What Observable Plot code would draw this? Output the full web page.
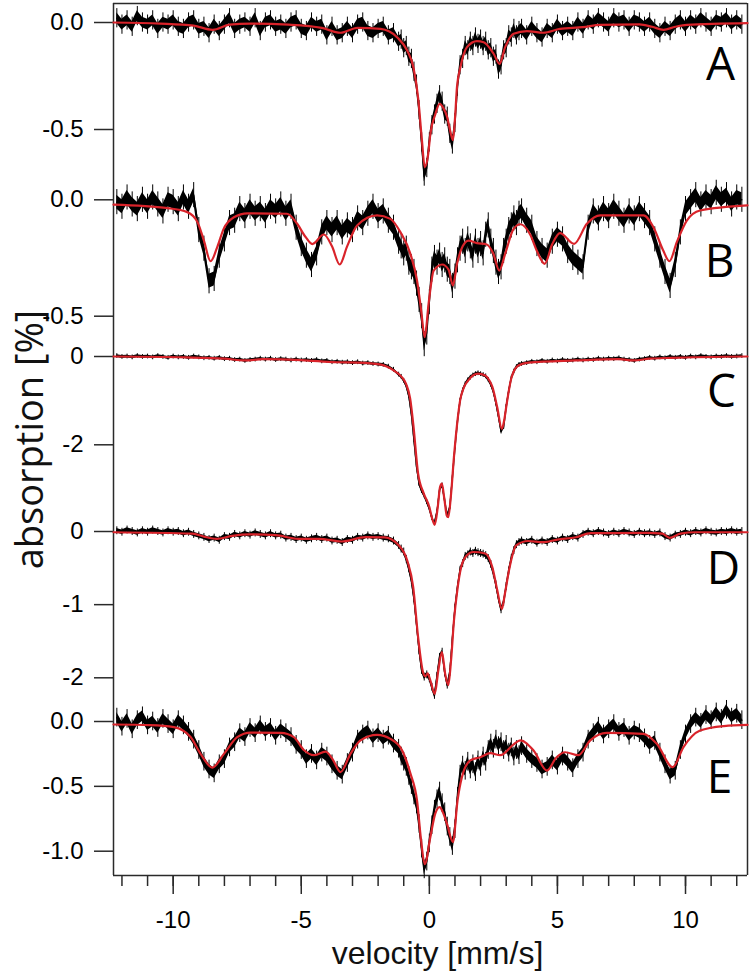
<!DOCTYPE html>
<html>
<head>
<meta charset="utf-8">
<script src="https://cdn.jsdelivr.net/npm/d3@7"></script>
<script src="https://cdn.jsdelivr.net/npm/@observablehq/plot@0.6"></script>
<style>
  html, body { margin: 0; padding: 0; background: #fff; overflow: hidden; }
  #chart { position: relative; width: 751px; height: 973px; overflow: hidden; }
  #chart svg { position: absolute; left: 0; top: 0; background: transparent !important; overflow: visible; }
  #chart svg g[aria-label$="tick label"],
  #chart svg g[aria-label$="tick label"] text {
    font-size: 24px !important;
    font-family: 'Liberation Sans', Arial, Helvetica, sans-serif !important;
  }
</style>
</head>
<body>
<div id="chart"></div>
<script>
// ---------- DATA ----------
// velocity grid (mm/s)
const velLeft = [-12.2,-12,-11.8,-11.6,-11.4,-11.2,-11,-10.8,-10.6,-10.4,-10.2,-10,-9.8,-9.6,-9.4,-9.2,-9,-8.8,-8.6,-8.4,-8.2,-8,-7.8,-7.6,-7.4,-7.2,-7,-6.8,-6.6,-6.4,-6.2,-6,-5.8,-5.6,-5.4,-5.2,-5,-4.8,-4.6,-4.4,-4.2,-4,-3.8,-3.6,-3.4,-3.2,-3,-2.8,-2.6,-2.4,-2.2,-2,-1.8,-1.6,-1.4,-1.2];
const velMid = [-1.1,-1,-0.9,-0.8,-0.7,-0.6,-0.5,-0.4,-0.3,-0.2,-0.1,0,0.1,0.2,0.3,0.4,0.5,0.6,0.7,0.8,0.9,1,1.1,1.2,1.3,1.4,1.5,1.6,1.7,1.8,1.9,2,2.1,2.2,2.3,2.4,2.5,2.6,2.7,2.8,2.9,3,3.1,3.2,3.3,3.4,3.5];
const velRight = [3.6,3.8,4,4.2,4.4,4.6,4.8,5,5.2,5.4,5.6,5.8,6,6.2,6.4,6.6,6.8,7,7.2,7.4,7.6,7.8,8,8.2,8.4,8.6,8.8,9,9.2,9.4,9.6,9.8,10,10.2,10.4,10.6,10.8,11,11.2,11.4,11.6,11.8,12,12.2];

// measured absorption, in units of 0.01 % (left / middle / right parts of the grid)
const obsA = [
  2,-1,1,-2,3,0,-1,1,-3,0,-1,1,-2,-3,0,1,-3,-2,-5,-1,-4,-1,2,-3,-1,0,-2,2,-4,0,1,-2,-1,-3,0,1,-3,-4,0,-2,-1,-6,-2,-6,-5,-2,-5,-1,0,-4,-5,-3,-2,-6,-5,-9,
  -8,-12,-11,-16,-17,-23,-29,-41,-56,-72,-68,-56,-48,-43,-38,-34,-37,-43,-44,-52,-57,-47,-30,-20,-17,-11,-13,-9,-11,-7,-10,-8,-11,-9,-13,-12,-16,-15,-22,-20,-13,-12,-6,-7,-3,-6,-4,
  -3,-6,-2,-5,-7,-3,-5,-1,-4,-2,-4,0,-3,1,-1,2,0,-2,2,0,1,-2,1,0,-2,0,-3,-5,-2,-4,-1,1,-2,1,-1,2,0,-2,1,0,2,-1,1,-1];
const obsB = [
  -1,-3,1,-2,-4,0,-3,1,-2,-5,0,-1,-4,1,-3,2,-13,-21,-35,-34,-24,-17,-10,-9,-4,-7,-3,-6,-4,-7,-3,-5,-2,-6,-3,-12,-19,-24,-28,-23,-14,-10,-13,-10,-14,-11,-13,-8,-10,-6,-3,-7,-5,-9,-12,-18,
  -20,-23,-21,-27,-29,-31,-36,-43,-50,-62,-57,-44,-30,-25,-27,-24,-28,-26,-30,-31,-37,-33,-26,-21,-18,-22,-17,-20,-24,-18,-22,-19,-23,-15,-11,-18,-22,-27,-31,-29,-22,-18,-13,-11,-8,-10,-6,
  -5,-9,-12,-19,-22,-24,-18,-15,-17,-22,-25,-27,-29,-12,-5,-8,-4,-7,-3,-6,-9,-5,-8,-4,-7,-10,-17,-24,-31,-37,-28,-14,-4,-1,2,-2,1,-1,3,0,2,-2,1,0];
const obsC = [
  1,-1,0,-2,1,-1,0,-2,1,-1,-3,0,-2,-1,-3,0,-2,-4,-3,-5,-3,-6,-5,-8,-7,-10,-8,-7,-5,-7,-5,-8,-6,-7,-9,-7,-9,-8,-10,-8,-11,-10,-13,-12,-14,-13,-15,-13,-16,-15,-17,-18,-19,-23,-30,-41,
  -46,-55,-67,-90,-131,-190,-250,-289,-305,-316,-330,-345,-366,-378,-352,-302,-292,-328,-360,-342,-274,-206,-146,-100,-77,-63,-54,-48,-43,-40,-38,-40,-42,-45,-53,-64,-80,-106,-137,-170,-160,-114,-78,-49,-34,-24,-19,
  -17,-15,-12,-13,-10,-12,-9,-11,-8,-10,-9,-7,-9,-7,-8,-5,-7,-5,-6,-4,-7,-8,-10,-7,-6,-3,-5,-2,-4,-1,-3,-1,-3,0,-2,1,-1,-2,0,-1,1,-1,0,1];
const obsD = [
  1,-1,2,0,-2,1,-1,2,0,-2,1,-1,0,-3,-1,-4,-6,-8,-11,-9,-12,-7,-8,-4,-6,-3,-5,-2,-4,-6,-3,-6,-5,-9,-8,-11,-9,-12,-10,-8,-11,-9,-13,-12,-15,-11,-12,-8,-9,-6,-8,-7,-9,-10,-13,-19,
  -24,-28,-38,-51,-67,-92,-127,-163,-190,-199,-196,-201,-213,-224,-198,-172,-165,-193,-210,-193,-147,-105,-76,-53,-44,-34,-32,-28,-30,-27,-29,-30,-31,-33,-37,-45,-57,-73,-92,-107,-97,-75,-54,-37,-26,-18,-15,
  -13,-15,-12,-16,-13,-15,-11,-13,-9,-11,-7,-9,-4,-1,-3,0,-2,-4,-1,-3,0,-2,-4,-1,-3,-2,-4,-2,-7,-9,-5,-4,-1,-3,0,-2,1,-1,-2,0,-1,1,-1,0];
const obsE = [
  3,-4,2,-6,1,4,-3,0,-5,2,-2,-6,1,-3,-8,-14,-22,-31,-37,-40,-33,-29,-20,-16,-9,-12,-5,-9,-3,-8,-5,-11,-6,-9,-12,-18,-22,-29,-25,-30,-24,-27,-33,-38,-41,-32,-24,-14,-10,-7,-13,-9,-14,-11,-17,-21,
  -27,-31,-35,-42,-49,-57,-64,-79,-98,-114,-108,-94,-80,-68,-60,-54,-63,-70,-81,-89,-96,-83,-58,-41,-34,-38,-31,-37,-33,-39,-30,-35,-27,-31,-22,-17,-21,-14,-19,-16,-22,-18,-24,-20,-27,-22,-26,
  -19,-25,-29,-32,-37,-35,-30,-34,-27,-31,-36,-29,-24,-14,-9,-4,-10,-6,-2,-8,-5,-11,-7,-9,-13,-18,-15,-24,-33,-41,-38,-22,-10,-2,3,-1,5,1,7,2,9,3,6,1];

// half-length of the error bars (%)
const errHalf = [0.025, 0.03, 0.03, 0.03, 0.04];

// fitted curves: [velocity, absorption %]
const fitA = [[-12.33,0],[-10.5,-0.005],[-9.2,-0.015],[-8.46,-0.034],[-7.8,-0.01],[-7,-0.005],[-5.5,-0.01],[-4.2,-0.025],[-3.47,-0.048],[-2.8,-0.025],[-1.9,-0.03],[-1.25,-0.07],[-0.87,-0.13],[-0.62,-0.21],[-0.43,-0.36],[-0.29,-0.55],[-0.18,-0.676],[-0.05,-0.62],[0.04,-0.52],[0.23,-0.43],[0.4,-0.38],[0.55,-0.4],[0.69,-0.44],[0.82,-0.51],[0.92,-0.55],[1,-0.45],[1.08,-0.3],[1.21,-0.21],[1.47,-0.115],[1.86,-0.087],[2.12,-0.092],[2.51,-0.146],[2.74,-0.193],[2.96,-0.115],[3.29,-0.053],[3.81,-0.04],[4.45,-0.048],[5.1,-0.03],[6,-0.022],[6.67,-0.011],[8.2,-0.009],[8.7,-0.02],[9.14,-0.034],[9.6,-0.02],[10.05,-0.011],[12.42,-0.003]];
const fitB = [[-12.33,-0.021],[-10.2,-0.036],[-9.45,-0.053],[-9.05,-0.096],[-8.8,-0.175],[-8.54,-0.264],[-8.27,-0.2],[-8.03,-0.125],[-7.63,-0.075],[-7.1,-0.058],[-5.56,-0.06],[-5.16,-0.103],[-4.83,-0.16],[-4.57,-0.19],[-4.12,-0.149],[-3.8,-0.2],[-3.5,-0.278],[-3.21,-0.2],[-2.82,-0.11],[-2.04,-0.067],[-1.52,-0.082],[-1.13,-0.139],[-0.74,-0.232],[-0.48,-0.347],[-0.32,-0.475],[-0.18,-0.59],[-0.03,-0.447],[0.17,-0.304],[0.5,-0.278],[0.75,-0.3],[0.92,-0.368],[1.08,-0.275],[1.3,-0.2],[1.53,-0.175],[1.86,-0.186],[2.24,-0.192],[2.5,-0.232],[2.73,-0.304],[2.96,-0.232],[3.29,-0.125],[3.55,-0.105],[3.94,-0.15],[4.2,-0.22],[4.5,-0.275],[4.8,-0.19],[5.1,-0.143],[5.65,-0.189],[6.15,-0.103],[6.67,-0.067],[8.36,-0.067],[8.75,-0.118],[9.13,-0.218],[9.37,-0.264],[9.66,-0.182],[10.05,-0.089],[10.57,-0.046],[12.42,-0.024]];
const fitC = [[-12.33,0],[-9.5,-0.02],[-8,-0.05],[-7.18,-0.09],[-6.5,-0.06],[-5,-0.08],[-3.63,-0.13],[-2.8,-0.14],[-1.94,-0.18],[-1.38,-0.32],[-1.1,-0.45],[-0.91,-0.62],[-0.75,-0.95],[-0.63,-1.52],[-0.44,-2.65],[-0.22,-3.1],[0,-3.41],[0.1,-3.65],[0.21,-3.81],[0.33,-3.4],[0.42,-2.95],[0.49,-2.88],[0.58,-3.2],[0.68,-3.6],[0.74,-3.64],[0.85,-3.1],[0.96,-2.28],[1.08,-1.55],[1.2,-1],[1.35,-0.7],[1.52,-0.54],[1.9,-0.39],[2.18,-0.43],[2.35,-0.55],[2.46,-0.69],[2.65,-1.15],[2.83,-1.64],[2.92,-1.45],[3.02,-1.07],[3.21,-0.47],[3.49,-0.2],[3.86,-0.14],[5.73,-0.09],[7.4,-0.06],[7.98,-0.09],[8.6,-0.05],[9.47,-0.03],[12.42,0]];
const fitD = [[-12.33,-0.01],[-9.24,-0.03],[-8.8,-0.07],[-8.3,-0.1],[-7.7,-0.06],[-7,-0.04],[-6,-0.05],[-5.12,-0.1],[-4.3,-0.1],[-3.43,-0.137],[-2.5,-0.078],[-1.75,-0.08],[-1.19,-0.19],[-0.86,-0.4],[-0.63,-0.76],[-0.44,-1.44],[-0.25,-1.92],[-0.15,-1.98],[-0.07,-1.94],[0.05,-2.05],[0.21,-2.22],[0.35,-1.9],[0.49,-1.65],[0.62,-1.95],[0.74,-2.1],[0.85,-1.75],[0.96,-1.22],[1.1,-0.78],[1.24,-0.49],[1.45,-0.33],[1.71,-0.28],[2.18,-0.3],[2.46,-0.49],[2.65,-0.8],[2.83,-1.06],[2.95,-0.85],[3.11,-0.53],[3.39,-0.19],[3.86,-0.13],[4.42,-0.146],[5,-0.11],[5.73,-0.078],[6.3,-0.023],[8.5,-0.02],[9.1,-0.03],[9.38,-0.087],[9.8,-0.03],[10.4,-0.01],[12.42,-0.01]];
const fitE = [[-12.33,-0.023],[-10.9,-0.028],[-9.97,-0.044],[-9.32,-0.12],[-8.93,-0.25],[-8.47,-0.355],[-8.02,-0.25],[-7.5,-0.12],[-6.98,-0.085],[-5.8,-0.088],[-5.29,-0.12],[-4.9,-0.22],[-4.51,-0.26],[-4.05,-0.233],[-3.75,-0.3],[-3.47,-0.39],[-3.08,-0.25],[-2.69,-0.146],[-2.04,-0.103],[-1.52,-0.134],[-1.07,-0.22],[-0.74,-0.4],[-0.48,-0.61],[-0.32,-0.92],[-0.18,-1.1],[0.04,-0.89],[0.23,-0.71],[0.4,-0.66],[0.55,-0.71],[0.69,-0.79],[0.92,-0.93],[1.1,-0.61],[1.27,-0.43],[1.6,-0.3],[1.99,-0.275],[2.38,-0.244],[2.77,-0.26],[3.29,-0.177],[3.55,-0.146],[4.07,-0.224],[4.59,-0.378],[4.95,-0.28],[5.3,-0.237],[5.82,-0.26],[6.28,-0.146],[6.93,-0.088],[8.36,-0.095],[8.88,-0.172],[9.5,-0.352],[9.92,-0.198],[10.57,-0.07],[11.5,-0.035],[12.42,-0.026]];

// labels and ticks
const panelLabels = ["A", "B", "C", "D", "E"];
const yTicks = [[0, -0.5], [0, -0.5], [0, -2], [0, -1, -2], [0, -0.5, -1]];
const yTickLabels = [["0.0", "-0.5"], ["0.0", "-0.5"], ["0", "-2"], ["0", "-1", "-2"], ["0.0", "-0.5", "-1.0"]];
const xMajorTicks = [-10, -5, 0, 5, 10];
const xMajorLabels = ["-10", "-5", "0", "5", "10"];
const xMinorTicks = [-12,-11,-10,-9,-8,-7,-6,-5,-4,-3,-2,-1,0,1,2,3,4,5,6,7,8,9,10,11,12];
const xTitle = "velocity [mm/s]";
const yTitle = "absorption [%]";

// ---------- LAYOUT ----------
const W = 751, H = 973;
const xDomain = [-12.33, 12.42];
const ML = 113, MR = 4;
const RED = "#d9232a";
const AX = "#2a2a2a";
const tickFont = "'Liberation Sans', Arial, Helvetica, sans-serif";
const letterFont = "'Open Sans', 'Noto Sans', sans-serif";

const velocity = [...velLeft, ...velMid, ...velRight];
const obsAll = [obsA, obsB, obsC, obsD, obsE];
const fitAll = [fitA, fitB, fitC, fitD, fitE];
const yDomains = [[0, -0.5], [0, -0.5], [0, -2], [0, -2], [0, -1]];
const yRanges = [[22, 129], [199.3, 315.7], [356, 444.3], [531, 677.3], [721, 850.7]];
const letterPos = [[720, 65], [719, 262], [721, 392], [723, 569], [719, 778]];

const chart = document.getElementById("chart");
const svgStyle = `position:absolute;left:0;top:0;background:transparent;overflow:visible;font-family:${tickFont};`;

// frame + x axis + titles
const frame = Plot.plot({
  width: W, height: H,
  marginLeft: ML, marginRight: MR, marginTop: 3, marginBottom: 98,
  style: svgStyle,
  x: {domain: xDomain},
  y: {domain: [0, 1], axis: null},
  marks: [
    Plot.ruleY([1], {stroke: AX, strokeWidth: 1.5}),
    Plot.ruleY([0], {stroke: AX, strokeWidth: 1.5}),
    Plot.ruleX([xDomain[0], xDomain[1]], {stroke: AX, strokeWidth: 1.5}),
    Plot.axisX({ticks: xMinorTicks, tickSize: 11, tickFormat: () => "", stroke: AX, strokeWidth: 1.5, anchor: "bottom", label: null}),
    Plot.axisX({ticks: xMajorTicks, tickSize: 19, tickPadding: 16, tickFormat: d => xMajorLabels[xMajorTicks.indexOf(d)],
      fontSize: 24, stroke: AX, strokeWidth: 1.5, anchor: "bottom", label: null}),
    Plot.text([xTitle], {frameAnchor: "bottom", dx: 7, dy: 88, lineAnchor: "bottom", fontSize: 32, fontFamily: tickFont, fill: "#111"}),
    Plot.text([yTitle], {frameAnchor: "left", dx: -83, rotate: -90, textAnchor: "middle", lineAnchor: "middle",
      fontSize: 38, fontFamily: letterFont, fill: "#111"})
  ]
});
chart.appendChild(frame);

obsAll.forEach((obs, i) => {
  const n = Math.min(obs.length, velocity.length);
  const rows = d3.range(n).map(k => ({v: velocity[k], y: obs[k] / 100}));
  const e = errHalf[i];
  const fitRows = fitAll[i].map(([v, y]) => ({v, y}));
  const labelMap = new Map(yTicks[i].map((t, k) => [t, yTickLabels[i][k]]));
  const p = Plot.plot({
    width: W, height: H,
    marginLeft: ML, marginRight: MR, marginTop: 0, marginBottom: 0,
    style: svgStyle,
    x: {domain: xDomain, axis: null},
    y: {domain: yDomains[i], range: yRanges[i]},
    marks: [
      Plot.axisY({ticks: yTicks[i], tickFormat: d => labelMap.get(d), tickSize: 19, tickPadding: 11,
        fontSize: 24, stroke: AX, strokeWidth: 1.5, anchor: "left", label: null}),
      Plot.areaY(rows, {x: "v", y1: d => d.y - e, y2: d => d.y + e, fill: "#000"}),
      Plot.ruleX(rows, {x: "v", y1: d => d.y - 1.8 * e, y2: d => d.y + 1.8 * e, stroke: "#000", strokeWidth: 1}),
      Plot.line(rows, {x: "v", y: "y", stroke: "#000", strokeWidth: 1.4}),
      Plot.line(fitRows, {x: "v", y: "y", stroke: RED, strokeWidth: 2.2, curve: "monotone-x"}),
      Plot.text([panelLabels[i]], {frameAnchor: "top-left", dx: letterPos[i][0] - ML, dy: letterPos[i][1],
        textAnchor: "middle", lineAnchor: "middle", fontSize: 46, fontFamily: letterFont, fill: "#000"})
    ]
  });
  chart.appendChild(p);
});
</script>
</body>
</html>
